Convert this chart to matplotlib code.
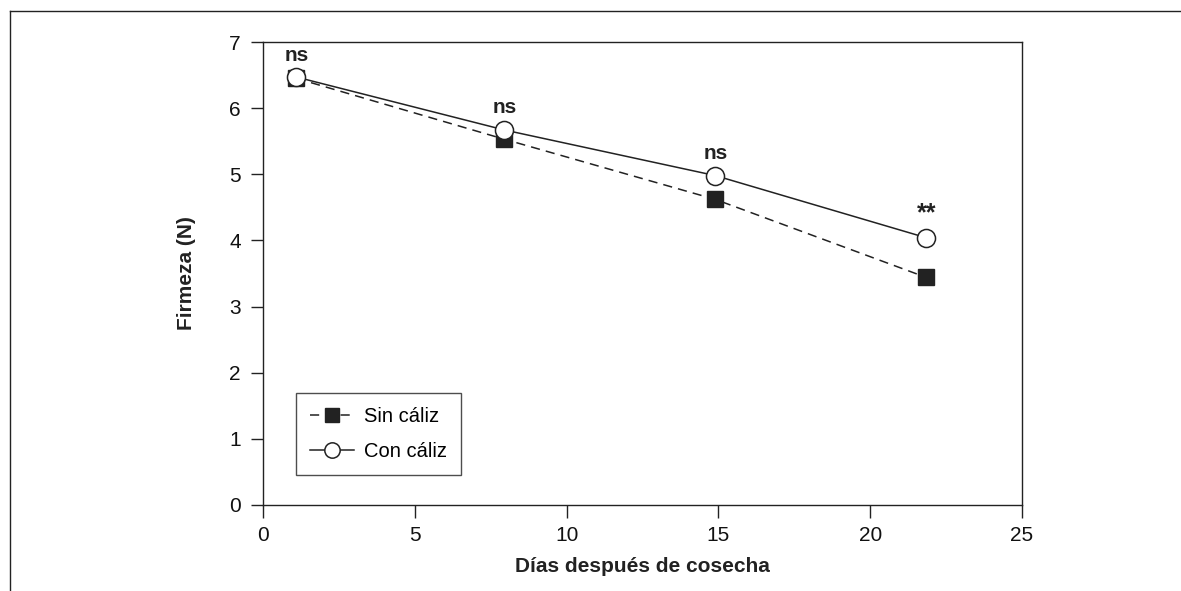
import matplotlib
matplotlib.use('Agg')
import matplotlib.pyplot as plt
from matplotlib.lines import Line2D

plt.rcParams['font.family'] = ['Liberation Sans', 'DejaVu Sans']

dias = [1.1, 7.95, 14.9, 21.85]
sin_caliz = [6.45, 5.53, 4.62, 3.44]
con_caliz = [6.47, 5.67, 4.98, 4.04]
signif = ['ns', 'ns', 'ns', '**']

fig = plt.figure(figsize=(11.81, 5.91), dpi=100)
ax = fig.add_axes([263 / 1181, 1 - 505 / 591, (1022 - 263) / 1181, (505 - 42) / 591])

ax.plot(dias, sin_caliz, linestyle=(0, (6, 4)), color='#222222', linewidth=1.1,
        marker='s', markersize=12, markerfacecolor='#222222', markeredgecolor='#222222',
        label='Sin cáliz')
ax.plot(dias, con_caliz, linestyle='-', color='#222222', linewidth=1.1,
        marker='o', markersize=13, markerfacecolor='white', markeredgecolor='#222222',
        markeredgewidth=1.1, label='Con cáliz')

for x, y, s in zip(dias, con_caliz, signif):
    fs = 18 if s == '**' else 15
    ax.annotate(s, xy=(x, y), xytext=(0, 9), textcoords='offset points',
                ha='center', va='bottom', fontsize=fs, fontweight='bold', color='#222222')

ax.set_xlim(0, 25)
ax.set_ylim(0, 7)
ax.set_xticks([0, 5, 10, 15, 20, 25])
ax.set_yticks(range(0, 8))
ax.tick_params(direction='out', length=9, width=1, labelsize=15, colors='#222222',
               labelcolor='#111111')
ax.tick_params(axis='y', pad=7)
ax.tick_params(axis='x', pad=6)
ax.set_xlabel('Días después de cosecha', fontsize=15, fontweight='bold', labelpad=9,
              color='#222222')
ax.set_ylabel('Firmeza (N)', fontsize=15, fontweight='bold', labelpad=24, color='#222222')
for sp in ax.spines.values():
    sp.set_color('#222222')
    sp.set_linewidth(1)

leg = ax.legend(loc='lower left', bbox_to_anchor=(0.043, 0.065), fontsize=14.5,
                frameon=True, fancybox=False, edgecolor='#222222', handlelength=2.2,
                borderpad=0.7, labelspacing=0.8, handletextpad=0.5, markerscale=0.85,
                borderaxespad=0)
leg.get_frame().set_linewidth(1)

# outer frame (top and left edges)
fig.add_artist(Line2D([10 / 1181, 1], [1 - 11 / 591, 1 - 11 / 591], color='#222222', linewidth=1))
fig.add_artist(Line2D([10 / 1181, 10 / 1181], [0, 1 - 11 / 591], color='#222222', linewidth=1))

fig.savefig('out.png', dpi=100)
